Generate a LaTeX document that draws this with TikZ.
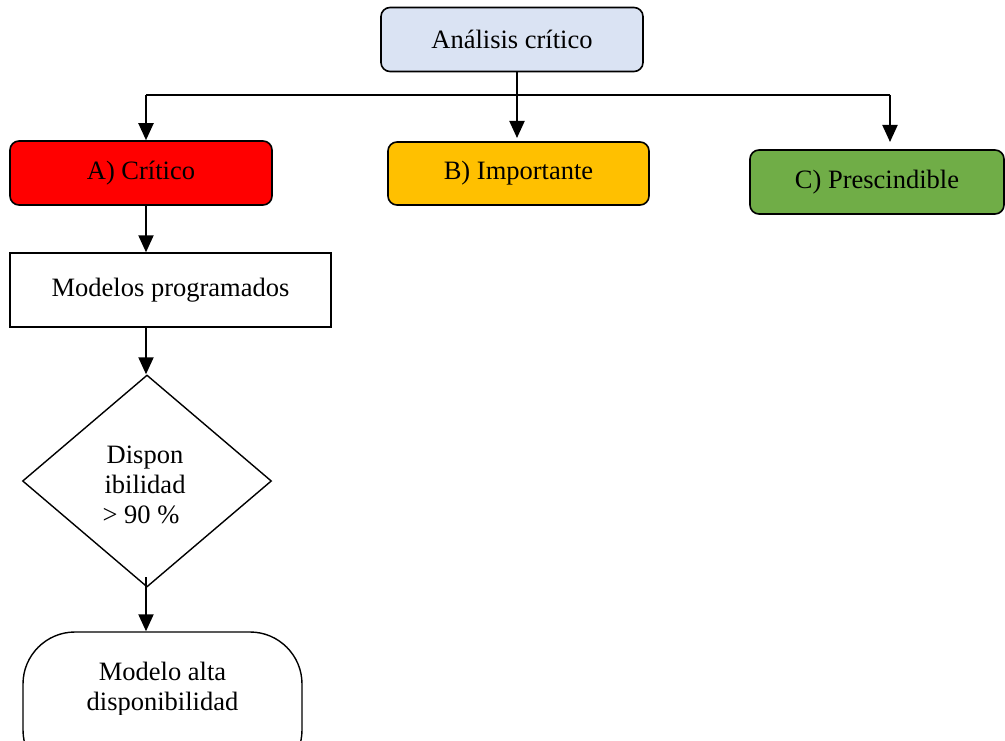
\documentclass[tikz,border=0pt]{standalone}
\usepackage{fontspec}
\setmainfont{Liberation Serif}
\usetikzlibrary{shapes.geometric,arrows.meta}
\definecolor{topblue}{HTML}{DAE3F3}
\definecolor{critred}{HTML}{FF0000}
\definecolor{impyellow}{HTML}{FFC000}
\definecolor{presgreen}{HTML}{70AD47}
\begin{document}
\begin{tikzpicture}[x=1pt,y=-1pt,
  every node/.style={font=\fontsize{26.5}{30}\selectfont, align=center, inner sep=0pt},
  rbox/.style={draw, line width=1.6pt, rounded corners=9pt, minimum width=262pt, minimum height=64pt},
  sbox/.style={draw, line width=1.4pt, minimum width=321pt, minimum height=74pt},
  dbox/.style={draw, line width=1.4pt, shape=diamond, minimum width=249pt, minimum height=212pt},
  tbox/.style={draw, line width=1.4pt, rounded corners=52pt, minimum width=279pt, minimum height=150pt},
  link/.style={line width=2pt},
  conn/.style={line width=2pt, -{Triangle[width=15pt,length=17pt]}}]
\useasboundingbox (0,0) rectangle (1005,741);

\node[rbox, fill=topblue] (top) at (512,39.5) {Análisis crítico};
\node[rbox, fill=critred] (A) at (141,173) {A) Crítico};
\node[rbox, fill=impyellow, minimum width=261pt, minimum height=63pt] (B) at (518.5,173.5) {B) Importante};
\node[rbox, fill=presgreen, minimum width=254pt] (C) at (877,182) {C) Prescindible};
\node[sbox] (M) at (170.5,290) {Modelos programados};
\node[dbox] (D) at (147,481) {};
\node (Dt) at (145,485) {Dispon\\ibilidad\\\hspace*{-8pt}> 90 \%};
\node[tbox] (T) at (162.5,707) {};
\begin{scope}
  \clip (0,0) rectangle (1005,714);
  \node (Tt) at (162.5,689) {Modelo alta\\disponibilidad};
\end{scope}

\coordinate (j) at (517,95);
\coordinate (jl) at (146,95);
\coordinate (jr) at (890,95);
\coordinate (ct) at (890,142);
\coordinate (bt) at (517,138);
\coordinate (ds) at (146,577);

\draw[link] (j |- top.south) -- (j);
\draw[link] (jl) -- (jr);
\draw[conn] (jl) -- (jl |- A.north);
\draw[conn] (j) -- (bt);
\draw[conn] (jr) -- (ct);
\draw[conn] (jl |- A.south) -- (jl |- M.north);
\draw[conn] (jl |- M.south) -- (jl |- D.north);
\draw[conn] (ds) -- (ds |- T.north);
\end{tikzpicture}
\end{document}
